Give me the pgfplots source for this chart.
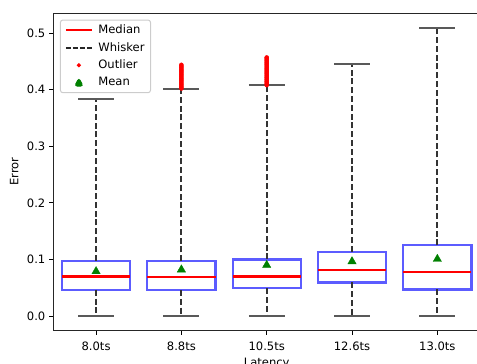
\documentclass[border=0pt]{standalone}
\usepackage{fontspec}
\setmainfont{DejaVu Sans}
\usepackage{pgfplots}
\pgfplotsset{compat=1.18}
\definecolor{boxblue}{rgb}{0.36,0.36,1}
\definecolor{mgreen}{rgb}{0,0.5,0}
\begin{document}
\fontsize{11.6}{13.9}\selectfont
\begin{tikzpicture}
\begin{axis}[
  name=ax, at={(0,0)}, anchor=south west,
  scale only axis, width=426.6bp, height=317.5bp,
  xmin=0.5, xmax=5.5, ymin=-0.0255, ymax=0.5355,
  xtick={1,2,3,4,5},
  xticklabels={8.0ts,8.8ts,10.5ts,12.6ts,13.0ts},
  xticklabel style={yshift=-3bp},
  ytick={0,0.1,0.2,0.3,0.4,0.5},
  yticklabel style={/pgf/number format/.cd, fixed, fixed zerofill, precision=1, assume math mode=true},
  tick align=outside, tick pos=left,
  major tick length=4bp,
  tick style={black, line width=1bp},
  axis line style={black!85, line width=1bp},
  unbounded coords=jump,
  xlabel={Latency}, ylabel={Error},
  xlabel style={at={(axis description cs:0.5,-0.0731)}, anchor=north},
  ylabel style={at={(axis description cs:-0.0917,0.5)}, anchor=center},
  legend cell align=left,
  legend style={at={(0,1)}, anchor=north west, xshift=6.5bp, yshift=-6.5bp,
    draw=black!20, rounded corners=2.5bp, line width=1bp, fill=white,
    inner xsep=4.5bp, inner ysep=3.5bp, row sep=4bp, column sep=4bp,
    nodes={inner sep=1.5bp, anchor=west}},
]
\addlegendimage{legend image code/.code={\draw[red, line width=2bp] (0bp,0bp) -- (26bp,0bp);}}
\addlegendentry{Median}
\addlegendimage{legend image code/.code={\draw[black!85, line width=1.8bp, dash pattern=on 5bp off 2bp] (0bp,0bp) -- (26bp,0bp);}}
\addlegendentry{Whisker}
\addlegendimage{legend image code/.code={\fill[red] (13bp,0bp) circle (1.5bp);}}
\addlegendentry{Outlier}
\addlegendimage{legend image code/.code={\fill[mgreen] (13bp,4.4bp) -- (8.8bp,-3.4bp) -- (17.2bp,-3.4bp) -- cycle;}}
\addlegendentry{Mean}

% boxes (lower quartile / upper quartile), width 0.8
\addplot[forget plot, boxblue, line width=2.1bp, line join=miter, line cap=rect] coordinates {
 (0.6,0.0465) (1.4,0.0465) (1.4,0.098) (0.6,0.098) (0.6,0.0465) (nan,nan)
 (1.6,0.046) (2.4,0.046) (2.4,0.097) (1.6,0.097) (1.6,0.046) (nan,nan)
 (2.6,0.049) (3.4,0.049) (3.4,0.100) (2.6,0.100) (2.6,0.049) (nan,nan)
 (3.6,0.0594) (4.4,0.0594) (4.4,0.114) (3.6,0.114) (3.6,0.0594) (nan,nan)
 (4.6,0.047) (5.4,0.047) (5.4,0.125) (4.6,0.125) (4.6,0.047)
};
% whiskers (dashed)
\addplot[forget plot, black!80, line width=1.9bp, dash pattern=on 6bp off 2.8bp] coordinates {
 (1,0.098) (1,0.384) (nan,nan) (1,0.0465) (1,0.0) (nan,nan)
 (2,0.097) (2,0.4016) (nan,nan) (2,0.046) (2,0.0) (nan,nan)
 (3,0.100) (3,0.4075) (nan,nan) (3,0.049) (3,0.0) (nan,nan)
 (4,0.114) (4,0.446) (nan,nan) (4,0.0594) (4,0.0) (nan,nan)
 (5,0.125) (5,0.509) (nan,nan) (5,0.047) (5,0.0)
};
% caps
\addplot[forget plot, black!65, line width=2.1bp] coordinates {
 (0.79,0.384) (1.21,0.384) (nan,nan) (0.79,0.0) (1.21,0.0) (nan,nan)
 (1.79,0.4016) (2.21,0.4016) (nan,nan) (1.79,0.0) (2.21,0.0) (nan,nan)
 (2.79,0.4075) (3.21,0.4075) (nan,nan) (2.79,0.0) (3.21,0.0) (nan,nan)
 (3.79,0.446) (4.21,0.446) (nan,nan) (3.79,0.0) (4.21,0.0) (nan,nan)
 (4.79,0.509) (5.21,0.509) (nan,nan) (4.79,0.0) (5.21,0.0)
};
% medians
\addplot[forget plot, red, line width=2.1bp] coordinates {
 (0.6,0.070) (1.4,0.070) (nan,nan)
 (1.6,0.0695) (2.4,0.0695) (nan,nan)
 (2.6,0.070) (3.4,0.070) (nan,nan)
 (3.6,0.082) (4.4,0.082) (nan,nan)
 (4.6,0.078) (5.4,0.078)
};
% outliers
\addplot[forget plot, only marks, mark=*, mark size=2bp, red] coordinates {
 (2,0.402) (2,0.404) (2,0.406) (2,0.408) (2,0.410) (2,0.412) (2,0.414) (2,0.416)
 (2,0.418) (2,0.420) (2,0.422) (2,0.424) (2,0.426) (2,0.428) (2,0.430) (2,0.432)
 (2,0.434) (2,0.436) (2,0.438) (2,0.440) (2,0.442) (2,0.444)
 (3,0.408) (3,0.410) (3,0.412) (3,0.414) (3,0.416) (3,0.418) (3,0.420) (3,0.422)
 (3,0.424) (3,0.426) (3,0.428) (3,0.430) (3,0.432) (3,0.434) (3,0.436) (3,0.438)
 (3,0.440) (3,0.442) (3,0.444) (3,0.446) (3,0.448) (3,0.450) (3,0.452) (3,0.454)
 (3,0.456) (3,0.457)
};
% means
\addplot[forget plot, only marks, mark=triangle*, mark size=4.8bp, mgreen] coordinates {
 (1,0.079) (2,0.082) (3,0.090) (4,0.0965) (5,0.1007)
};
\end{axis}
\pgfresetboundingbox
\path[use as bounding box] ([xshift=-53.4bp, yshift=-33.5bp]ax.south west) rectangle ([xshift=-3bp, yshift=13bp]ax.north east);
\end{tikzpicture}
\end{document}
